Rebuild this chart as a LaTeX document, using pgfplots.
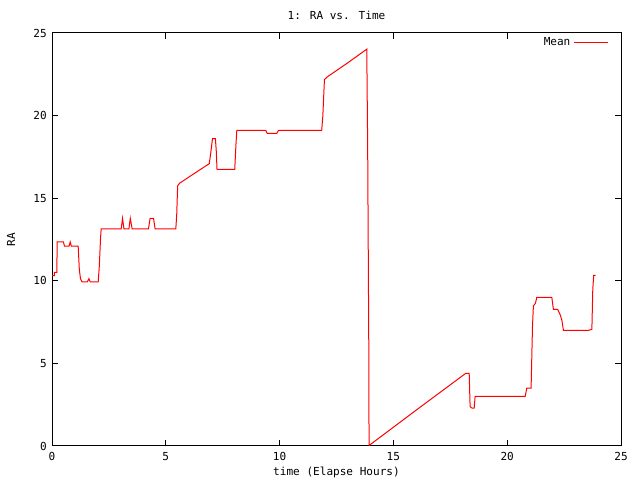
\documentclass[border=0pt]{standalone}
\usepackage{fontspec}
\setmainfont{DejaVu Sans Mono}
\setmonofont{DejaVu Sans Mono}
\usepackage{pgfplots}
\pgfplotsset{compat=1.18}
\begin{document}
\fontsize{8.3}{10}\selectfont
\begin{tikzpicture}
\begin{axis}[
  scale only axis,
  width=426.75pt, height=309.75pt,
  xmin=0, xmax=25, ymin=0, ymax=25,
  xtick={0,5,...,25}, ytick={0,5,...,25},
  tick align=inside,
  major tick length=4.5pt,
  tick style={black, line width=0.75pt},
  axis line style={black, line width=0.75pt},
  /pgf/number format/assume math mode=true,
  ticklabel style={font=\fontsize{8.3}{10}\selectfont},
  xticklabel style={yshift=-2pt},
  yticklabel style={xshift=-1pt},
  title={1: RA vs. Time},
  title style={font=\fontsize{8.3}{10}\selectfont, yshift=1pt},
  xlabel={time (Elapse Hours)},
  ylabel={RA},
  label style={font=\fontsize{8.3}{10}\selectfont},
  xlabel style={yshift=1pt},
  ylabel style={yshift=8pt},
  legend style={draw=none, fill=none, at={(1,1)}, anchor=north east,
    xshift=-9.5pt, yshift=-1.5pt, inner sep=0pt,
    font=\fontsize{8.3}{10}\selectfont},
  legend cell align=right,
  legend plot pos=right,
  legend image code/.code={\draw[red, line width=0.75pt] (0pt,0pt) -- (25.5pt,0pt);},
]
\addplot[red, line width=0.75pt, line join=miter] coordinates {
(0,10.31)(0.1,10.31)(0.1,10.51)(0.21,10.51)(0.23,12.35)(0.5,12.35)(0.55,12.1)(0.75,12.1)(0.8,12.35)(0.85,12.1)(1.15,12.1)(1.2,10.7)(1.25,10.13)(1.32,9.93)(1.55,9.93)(1.62,10.13)(1.68,9.93)(2.03,9.93)(2.08,10.9)(2.13,12.5)(2.16,13.15)(3.04,13.15)(3.1,13.78)(3.16,13.15)(3.38,13.15)(3.44,13.78)(3.52,13.15)(4.24,13.15)(4.31,13.78)(4.46,13.78)(4.53,13.15)(5.44,13.15)(5.48,14.0)(5.52,15.74)(5.6,15.9)(6.2,16.45)(6.91,17.09)(6.98,17.8)(7.05,18.6)(7.18,18.6)(7.22,17.8)(7.25,16.75)(8.03,16.75)(8.08,18.2)(8.12,19.11)(9.39,19.11)(9.45,18.93)(9.88,18.93)(9.95,19.11)(11.85,19.11)(11.9,20.0)(11.97,22.18)(12.1,22.35)(13,23.2)(13.83,24.02)(13.87,18.0)(13.92,5.63)(13.93,0.03)(16,2.17)(18.18,4.4)(18.33,4.4)(18.37,2.38)(18.45,2.3)(18.55,2.3)(18.59,3.0)(20.79,3.0)(20.86,3.51)(21.05,3.51)(21.11,7.2)(21.15,8.47)(21.24,8.64)(21.3,9.0)(21.96,9.0)(22.03,8.27)(22.22,8.27)(22.33,7.93)(22.4,7.63)(22.47,7.0)(23.57,7.0)(23.72,7.06)(23.76,9.48)(23.8,10.33)(23.89,10.33)
};
\addlegendentry{Mean\hspace{3.5pt}}
\end{axis}
\pgfresetboundingbox
\path (current axis.south west) ++(-39pt,-25.5pt) rectangle ([xshift=14.25pt,yshift=24.75pt]current axis.north east);
\end{tikzpicture}
\end{document}
